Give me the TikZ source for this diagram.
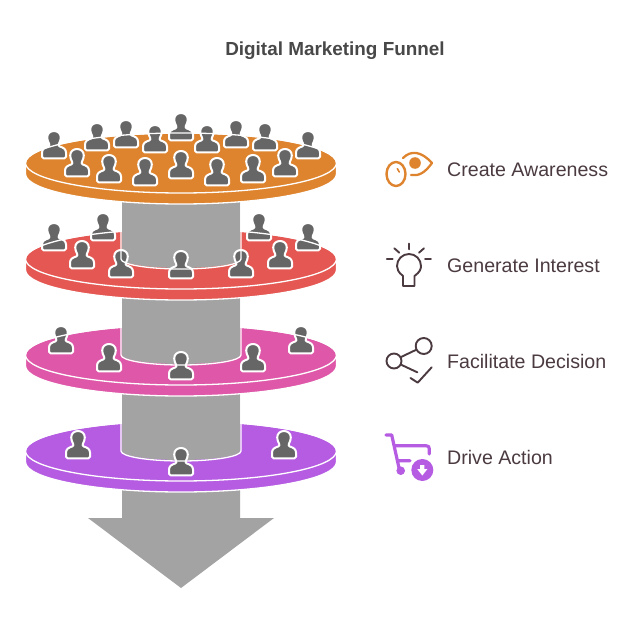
\documentclass[tikz,border=0pt]{standalone}
\usepackage{fontspec}
\setmainfont{Liberation Sans}
\definecolor{discA}{HTML}{DF842E}
\definecolor{discB}{HTML}{E55753}
\definecolor{discC}{HTML}{DF57A8}
\definecolor{discD}{HTML}{B55CE3}
\definecolor{shaftgrey}{HTML}{A3A3A3}
\definecolor{persongrey}{HTML}{666666}
\definecolor{labelink}{HTML}{4B3B41}
\definecolor{titleink}{HTML}{484848}
\tikzset{
  personshape/.style={fill=persongrey,draw=white,line width=2pt,line join=round},
  rimline/.style={draw=white,line width=1.3pt},
  iconline/.style={line width=1.9pt,line cap=round,line join=round},
  sidelabel/.style={anchor=west,inner sep=0pt,text=labelink,font=\fontsize{19.6}{22}\selectfont},
  person/.pic={
    \path[personshape,yscale=-1] (-10.5,0.3) .. controls (-11.5,0.3) and (-12,-0.2) .. (-12,-1.2)
      -- (-12,-5.5) .. controls (-12,-9) and (-9,-10.5) .. (-5.8,-11.5)
      .. controls (-4.6,-12) and (-4.4,-13) .. (-4.8,-14)
      .. controls (-6,-16.2) and (-6.8,-18.5) .. (-6.8,-20.5)
      .. controls (-6.8,-24.5) and (-3.8,-27) .. (0,-27)
      .. controls (3.8,-27) and (6.8,-24.5) .. (6.8,-20.5)
      .. controls (6.8,-18.5) and (6,-16.2) .. (4.8,-14)
      .. controls (4.4,-13) and (4.6,-12) .. (5.8,-11.5)
      .. controls (9,-10.5) and (12,-9) .. (12,-5.5)
      -- (12,-1.2) .. controls (12,-0.2) and (11.5,0.3) .. (10.5,0.3) -- cycle;
  }
}
\newcommand{\discbody}[2]{%
  \path[rimline,fill=#2] (25.5,#1) -- (25.5,#1+11) arc[start angle=180,end angle=0,x radius=155.5,y radius=30] -- (336.5,#1) -- cycle;
  \path[rimline,fill=#2] (181,#1) ellipse[x radius=155.5,y radius=30];
}
\newcommand{\shaftbody}[1]{%
  \fill[shaftgrey] (122,#1-70) -- (122,#1) arc[start angle=180,end angle=0,x radius=59,y radius=9] -- (240,#1-70) -- cycle;
}
\newcommand{\shaftrim}[1]{%
  \path[rimline] (25.5,#1) arc[start angle=-180,end angle=-113.2,x radius=155.5,y radius=30];
  \path[rimline] (336.5,#1) arc[start angle=0,end angle=-66.8,x radius=155.5,y radius=30];
  \path[rimline] (121,#1-58) -- (121,#1) arc[start angle=180,end angle=0,x radius=60,y radius=10] -- (241,#1-58);
}
\newcommand{\crowd}[1]{\foreach \px/\py in {#1} {\pic at (\px,\py) {person};}}
\begin{document}
\begin{tikzpicture}[x=1pt,y=1pt,yscale=-1]
\useasboundingbox (0,0) rectangle (639,639);
\fill[white] (0,0) rectangle (639,639);

% arrow
\fill[shaftgrey] (122,480) -- (240,480) -- (240,518) -- (274,518) -- (181,588) -- (88,518) -- (122,518) -- cycle;

% disc 4
\discbody{451}{discD}
\shaftbody{451}
\crowd{78/458,181/475,284/458}
\shaftrim{451}

% disc 3
\discbody{355}{discC}
\shaftbody{355}
\crowd{61/353,109/371,181/379,253/371,301/353}
\shaftrim{355}

% disc 2
\discbody{259}{discB}
\shaftbody{259}
\crowd{54/250,103/240,82/268,121/277,181/278,241/277,280/268,259/240,308/250}
\shaftrim{259}

% disc 1
\discbody{163}{discA}
\crowd{54/158,97/150,126/147,155/152,181/140,207/152,236/147,265/150,308/158,77/176,109/182,145/185,181/178,217/185,253/182,285/176}
\path[rimline] (25.5,163) arc[start angle=-180,end angle=0,x radius=155.5,y radius=30];

% texts
\node[anchor=center,inner sep=0pt,text=titleink,font=\bfseries\fontsize{18.9}{22}\selectfont] (title) at (335,50.5) {Digital Marketing Funnel};
\node[sidelabel] (lblA) at (447,169.5) {Create Awareness};
\node[sidelabel] (lblB) at (447,265.5) {Generate Interest};
\node[sidelabel] (lblC) at (447,361.5) {Facilitate Decision};
\node[sidelabel] (lblD) at (447,457.5) {Drive Action};

% eye icon
\draw[discA,line width=2.4pt] (396,174) ellipse[x radius=9.5,y radius=12];
\draw[discA,line width=1.6pt,line cap=round] (397.3,168.6) -- (399.3,172);
\fill[discA] (415,163) circle[radius=5.8];
\draw[discA,line width=2.3pt,line cap=round,line join=round] (403,158) .. controls (411,150) and (421,151) .. (432,163)
  .. controls (424,174) and (418,176) .. (411,175);

% bulb icon
\draw[labelink,iconline] (403,276) .. controls (398,272) and (397,269) .. (397,266)
  arc[start angle=180,end angle=360,radius=12] .. controls (421,269) and (420,272) .. (414.5,276)
  -- (414.5,286) -- (403,286) -- cycle;
\draw[labelink,iconline] (409,243.5) -- (409,249.3) (394.3,248.3) -- (399.3,252.7) (424,248.3) -- (419,252.7)
  (386.7,259) -- (392.7,259) (425,259) -- (431,259);

% share icon
\draw[labelink,iconline] (394,361) circle[radius=7.5] (423.7,346) circle[radius=8]
  (401.7,356.7) -- (415.7,350) (401.7,365) -- (417.3,372.3)
  (410.5,378) -- (417.7,382.7) -- (431.7,367.3);

% cart icon
\draw[discD,line width=3.2pt,line cap=round,line join=round] (386,435) -- (391.7,435) -- (399,468)
  (394.5,445.7) -- (426,445.7) .. controls (428.5,445.7) and (429.5,447) .. (429.3,449) -- (429.3,454)
  (397.7,460.7) -- (410,460.7);
\fill[discD] (400.7,470.7) circle[radius=4.3] (422.3,470) circle[radius=11];
\fill[white] (420.2,465) -- (424.4,465) -- (424.4,469.2) -- (427.3,469.2) -- (422.3,475.5) -- (417.3,469.2) -- (420.2,469.2) -- cycle;
\end{tikzpicture}
\end{document}
